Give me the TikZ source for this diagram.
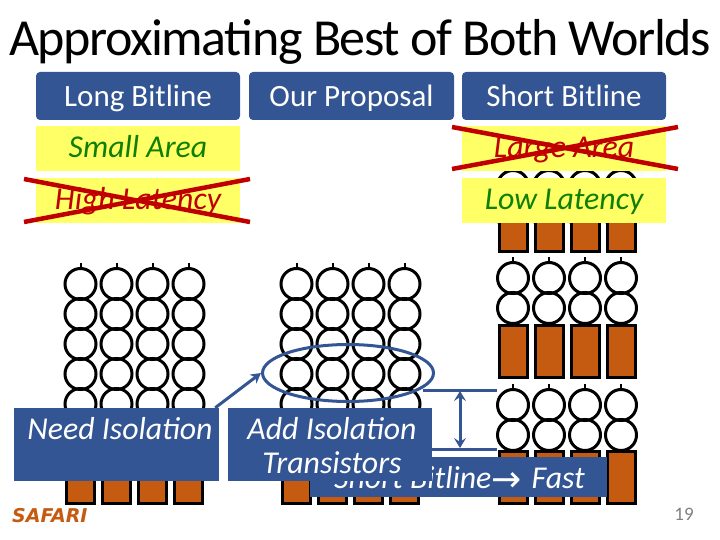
\documentclass[tikz,border=0pt]{standalone}
\usepackage{fontspec}
\setmainfont{Carlito}
\newfontfamily\safarifont{DejaVu Sans}
\newfontfamily\titlefont[LetterSpace=-2.8]{Carlito}
\usetikzlibrary{calc}
\usetikzlibrary{arrows.meta}
\usetikzlibrary{shapes.geometric}
\definecolor{color_box_blue}{HTML}{335593}
\definecolor{color_sense_amp}{HTML}{C55A11}
\definecolor{color_note_bg}{HTML}{FFFF66}
\definecolor{color_bad}{HTML}{C00000}
\definecolor{color_good}{HTML}{0F7F00}
\def\celllinewidth{3pt}
% one column: stem on top, then the cells below it
\def\bitcolumn(#1,#2,#3){
    \foreach \r [count=\i from 0] in {1,...,#3} {
        \node[bitcell] (cell\r) at (#1,#2+30*\i) {};
    }
    \draw[line width=2pt] (cell1.north) -- ++(0,-4);
}
\def\senseamp(#1,#2,#3){
    \draw[fill=color_sense_amp,line width=\celllinewidth] (#1-14,#2) rectangle (#1+14,#3);
}
\tikzset{
    bitcell/.style={circle,draw,line width=\celllinewidth,inner sep=0pt,minimum size=31pt},
    header/.style={fill=color_box_blue,rounded corners=4pt,text=white,minimum width=204pt,minimum height=48pt,inner sep=0pt,text height=21pt,text depth=0pt,font=\fontsize{31}{31}\selectfont},
    note/.style={fill=color_note_bg,minimum width=204pt,minimum height=45pt,inner sep=0pt,text height=18pt,text depth=0pt,font=\fontsize{31.8}{32}\selectfont\itshape},
    msgbox/.style={fill=color_box_blue,inner sep=0pt},
    msgtext/.style={anchor=base,text=white,inner sep=0pt,font=\fontsize{31.8}{32}\selectfont\itshape},
    crossout/.style={color_bad,line width=4.5pt},
    blueline/.style={color_box_blue,line width=3pt},
}
\begin{document}
\begin{tikzpicture}[x=1pt,y=-1pt]
    \useasboundingbox (0,0) rectangle (720,540);
    \fill[white] (0,0) rectangle (720,540);
    % long bitline
    \foreach \x in {80.5,116.5,152.5,188.5} {
        \bitcolumn(\x,284,5)
        \senseamp(\x,420,503.5)
    }
    % our proposal
    \foreach \x in {296.5,332.5,368.5,404.5} {
        \bitcolumn(\x,284,5)
        \senseamp(\x,420,503.5)
    }
    % short bitline
    \foreach \x in {513,549,585,621} {
        \bitcolumn(\x,186,2)
        \senseamp(\x,200,251)
        \bitcolumn(\x,278,2)
        \senseamp(\x,325.5,377)
        \bitcolumn(\x,405,2)
        \senseamp(\x,451,503.5)
    }
    % title
    \node[anchor=base,inner sep=0pt] (title) at (360,56) {\titlefont\fontsize{52}{52}\selectfont Approximating Best of Both Worlds};
    % isolation transistors and the distance
    \node[draw=color_box_blue,ellipse,line width=3pt,minimum width=171pt,minimum height=57pt,inner sep=0pt] (isolation) at (348,373) {};
    \coordinate (topleft) at (423,390);
    \coordinate (topright) at (497,390);
    \coordinate (botleft) at (423,449);
    \coordinate (botright) at (497,449);
    \coordinate (arrowtop) at (460,391);
    \coordinate (arrowbot) at (460,448);
    \draw[blueline] (topleft) -- (topright);
    \draw[blueline] (botleft) -- (botright);
    \draw[blueline,{Stealth[length=10pt,width=12pt,inset=4pt]}-{Stealth[length=10pt,width=12pt,inset=4pt]}] (arrowtop) -- (arrowbot);
    % headers
    \node[header] (longhead) at (138,96) {Long Bitline};
    \node[header,minimum width=205pt] (ourhead) at (351.5,96) {Our Proposal};
    \node[header] (shorthead) at (564,96) {Short Bitline};
    % notes
    \node[note,text=color_good] (smallarea) at (138,148.5) {Small Area};
    \node[note,text=color_bad] (highlat) at (138,200.5) {High Latency};
    \node[note,text=color_bad] (largearea) at (564,148.5) {Large Area};
    \node[note,text=color_good] (lowlat) at (564,200.5) {Low Latency};
    \draw[crossout] (24,179) -- (250,222);
    \draw[crossout] (24,222) -- (250,179);
    \draw[crossout] (452,169) -- (678,127);
    \draw[crossout] (452,127) -- (678,169);
    % bottom boxes
    \node[msgbox,minimum width=297pt,minimum height=40pt] (shortfast) at (458.5,477) {};
    \node[msgtext] (fasttext) at (459.5,488) {Short Bitline\raisebox{-3pt}{\fontspec{DejaVu Sans}\fontsize{36}{36}\selectfont\symbol{"2192}}\hspace{10pt}Fast};
    \node[msgbox,minimum width=205pt,minimum height=73pt] (needbox) at (116.5,444.5) {};
    \node[msgbox,minimum width=204pt,minimum height=73pt] (addbox) at (330,444.5) {};
    \node[msgtext] (needtext) at (120,439) {Need Isolation};
    \node[msgtext] (addtext) at (332,439) {Add Isolation};
    \node[msgtext] (transtext) at (332,473) {Transistors};
    \draw[blueline,-{Stealth[length=10pt,width=11pt,inset=3pt]}] (needbox.north east) ++(-4,0) -- (isolation.west);
    % footer
    \node[anchor=base west,inner sep=0pt,color_sense_amp,font=\safarifont\fontsize{19}{19}\selectfont\bfseries\itshape] (safari) at (12,522) {SAFARI};
    \node[anchor=base,inner sep=0pt,gray,font=\fontsize{19}{19}\selectfont] (pagenum) at (684,520) {19};
\end{tikzpicture}
\end{document}
